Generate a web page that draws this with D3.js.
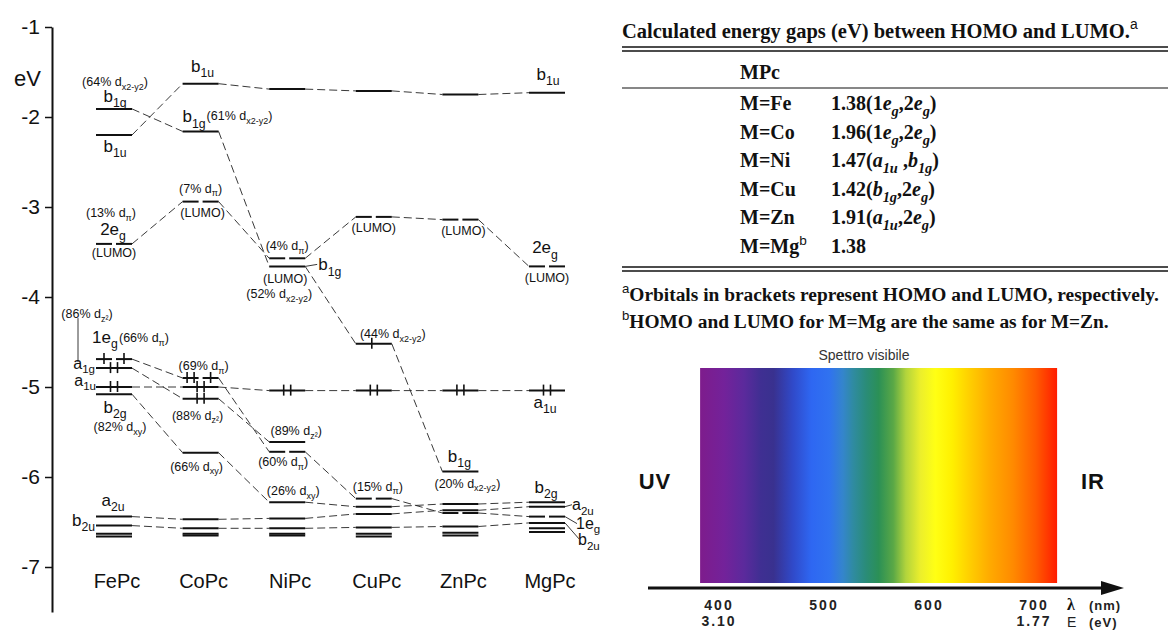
<!DOCTYPE html>
<html>
<head>
<meta charset="utf-8">
<script src="https://cdn.jsdelivr.net/npm/d3@7"></script>
<style>
  body { margin: 0; background: #fff; }
  text { white-space: pre; }
</style>
</head>
<body>
<svg id="fig" width="1168" height="635"></svg>
<script>
// ---------- data ----------
const complexes = ["FePc", "CoPc", "NiPc", "CuPc", "ZnPc", "MgPc"];
const energyTicks = [-1, -2, -3, -4, -5, -6, -7];

// orbital energies (eV) per complex; null where the level is not drawn
const b1u = [-2.20, -1.63, -1.69, -1.71, -1.75, -1.73];
const b1g = [-1.91, -2.16, -3.66, -4.52, -5.94, null];
const e2g = [-3.41, -2.94, -3.57, -3.11, -3.14, -3.66];
const e1g = [-4.69, -4.90, -5.72, -6.24, -6.40, -6.44];
const a1g = [-4.79, -5.13, -5.61, null, null, null];
const a1u = [-5.00, -5.00, -5.04, -5.04, -5.04, -5.04];
const b2g = [-5.08, -5.73, -6.28, -6.33, -6.30, -6.28];
const a2u = [-6.44, -6.47, -6.46, -6.41, -6.37, -6.33];
const b2u = [-6.54, -6.57, -6.57, -6.56, -6.55, -6.51];
const deepA = [-6.63, -6.63, -6.63, -6.63, -6.62, -6.57];
const deepB = [-6.66, -6.65, -6.65, -6.66, -6.65, -6.61];

// electrons on occupied levels (e levels: [left half, right half])
const a1uElectrons = [2, 2, 2, 2, 2, 2];
const a1gElectrons = [2, 2, 0, 0, 0, 0];
const b1gElectrons = [0, 0, 0, 1, 0, 0];
const e1gElectrons = [[1, 1], [2, 1], [0, 0], [0, 0], [0, 0], [0, 0]];

// HOMO-LUMO gap table
const tableMetals = ["Fe", "Co", "Ni", "Cu", "Zn", "Mg"];
const gapValues = [1.38, 1.96, 1.47, 1.42, 1.91, 1.38];
const gapOrbitals = [
  "(1*e*_{*g*},2*e*_{*g*})",
  "(1*e*_{*g*},2*e*_{*g*})",
  "(*a*_{*1u*} ,*b*_{*1g*})",
  "(*b*_{*1g*},2*e*_{*g*})",
  "(*a*_{*1u*},2*e*_{*g*})",
  ""
];
const tableTitle = "Calculated energy gaps (eV) between HOMO and LUMO.^{a}";
const footnotes = [
  "^{a}Orbitals in brackets represent HOMO and LUMO, respectively.",
  "^{b}HOMO and LUMO for M=Mg are the same as for M=Zn."
];

// visible spectrum
const spectrumTicksNm = [400, 500, 600, 700];
const spectrumTicksEv = ["3.10", "", "", "1.77"];
const spectrumNm = [382, 405, 424, 440, 452, 470, 488, 505, 518, 528, 540, 552, 566, 578, 592, 606, 622, 640, 658, 680, 702, 722];
const spectrumColors = ["#7e1c8c", "#73229a", "#5b2a9c", "#3f2f92", "#39318f", "#3049c8", "#2e67f2", "#3072f0", "#3485cc",
  "#2f8ba0", "#2a8c78", "#2b9056", "#5aa846", "#b2d43c", "#ecef2c", "#ffff14", "#fff000", "#ffcc00", "#ffaa00", "#ff8a00", "#ff5a00", "#ff1c00"];

// ---------- helpers ----------
const SANS = "'Liberation Sans', Arial, Helvetica, sans-serif";
const SERIF = "'Liberation Serif', 'Times New Roman', serif";

// text with _{sub}, ^{sup} and *italic* runs
function rich(g, str, o) {
  const t = g.append("text")
    .attr("x", o.x).attr("y", o.y)
    .attr("font-size", o.size)
    .attr("text-anchor", o.anchor || "middle")
    .attr("font-family", o.family || SANS)
    .attr("fill", o.fill || "#111");
  if (o.weight) t.attr("font-weight", o.weight);
  const segs = [];
  const re = /([_^])\{([^}]*)\}/g;
  let last = 0, m;
  while ((m = re.exec(str)) !== null) {
    if (m.index > last) segs.push({ t: str.slice(last, m.index), mode: "n" });
    segs.push({ t: m[2], mode: m[1] === "_" ? "sub" : "sup" });
    last = re.lastIndex;
  }
  if (last < str.length) segs.push({ t: str.slice(last), mode: "n" });
  let shift = 0, italic = false;
  segs.forEach(s => {
    const off = s.mode === "sub" ? o.size * (o.subShift || 0.3) : s.mode === "sup" ? -o.size * 0.42 : 0;
    const fs = s.mode === "n" ? o.size : o.size * (o.subScale || 0.72);
    s.t.split("*").forEach((piece, i) => {
      if (i > 0) italic = !italic;
      if (!piece) return;
      const ts = t.append("tspan").attr("dy", off - shift).attr("font-size", fs).text(piece);
      shift = off;
      if (italic) ts.attr("font-style", "italic");
      if (s.mode === "sup" && o.supFamily) ts.attr("font-family", o.supFamily).attr("font-weight", "normal");
    });
  });
  return t;
}

const svg = d3.select("#fig");

// ---------- orbital energy diagram ----------
const y = d3.scaleLinear().domain([-1, -7.5]).range([27, 612]);
const x = d3.scalePoint().domain(complexes).range([114, 547]);
const HW = 18;          // half width of a level
const GAP = 2;          // half gap between degenerate partners

const diagram = svg.append("g");

const axis = diagram.append("g")
  .attr("transform", "translate(52,0)")
  .call(d3.axisLeft(y).tickValues(energyTicks).tickFormat(d => String(d))
    .tickSize(7).tickSizeOuter(0).tickPadding(5));
axis.select(".domain").attr("stroke", "#111").attr("stroke-width", 2);
axis.selectAll(".tick line").attr("stroke", "#111").attr("stroke-width", 1.5);
axis.selectAll(".tick text").attr("font-size", 21).attr("font-family", SANS).attr("fill", "#111");

diagram.append("text").attr("x", 14).attr("y", 86).attr("font-size", 22)
  .attr("font-family", SANS).attr("fill", "#111").text("eV");

diagram.selectAll(".complex").data(complexes).join("text")
  .attr("class", "complex")
  .attr("x", d => x(d) + 3).attr("y", 588)
  .attr("text-anchor", "middle").attr("font-size", 20)
  .attr("font-family", SANS).attr("fill", "#111")
  .text(d => d);

// dashed correlation lines between neighbouring complexes
const correlated = [b1u, b1g, e2g, e1g, a1g, a1u, b2g, a2u, b2u];
const connectors = [];
correlated.forEach(series => {
  for (let i = 0; i < series.length - 1; i++) {
    if (series[i] != null && series[i + 1] != null)
      connectors.push({ x1: x(complexes[i]) + HW, y1: y(series[i]), x2: x(complexes[i + 1]) - HW, y2: y(series[i + 1]) });
  }
});
diagram.append("g").selectAll("line").data(connectors).join("line")
  .attr("x1", d => d.x1).attr("y1", d => d.y1).attr("x2", d => d.x2).attr("y2", d => d.y2)
  .attr("stroke", "#222").attr("stroke-width", 0.9).attr("stroke-dasharray", "8,4");

// energy levels (degenerate e levels drawn as two short bars)
const levels = [];
[[b1u, false], [b1g, false], [e2g, true], [e1g, true], [a1g, false], [a1u, false],
 [b2g, false], [a2u, false], [b2u, false], [deepA, false], [deepB, false]].forEach(([series, degenerate]) => {
  series.forEach((v, i) => {
    if (v == null) return;
    const cx = x(complexes[i]);
    if (degenerate) {
      levels.push({ x1: cx - HW, x2: cx - GAP, y: y(v) });
      levels.push({ x1: cx + GAP, x2: cx + HW, y: y(v) });
    } else {
      levels.push({ x1: cx - HW, x2: cx + HW, y: y(v) });
    }
  });
});
diagram.append("g").selectAll("line").data(levels).join("line")
  .attr("x1", d => d.x1).attr("x2", d => d.x2).attr("y1", d => d.y).attr("y2", d => d.y)
  .attr("stroke", "#111").attr("stroke-width", 2);

// electron ticks
const electronTicks = [];
function addTicks(cx, yy, n) {
  if (n === 1) electronTicks.push({ x: cx, y: yy });
  if (n === 2) { electronTicks.push({ x: cx - 3.5, y: yy }); electronTicks.push({ x: cx + 3.5, y: yy }); }
}
complexes.forEach((c, i) => {
  const cx = x(c);
  if (a1u[i] != null) addTicks(cx, y(a1u[i]), a1uElectrons[i]);
  if (a1g[i] != null) addTicks(cx, y(a1g[i]), a1gElectrons[i]);
  if (b1g[i] != null) addTicks(cx - 2, y(b1g[i]), b1gElectrons[i]);
  if (e1g[i] != null) {
    addTicks(cx - (HW + GAP) / 2, y(e1g[i]), e1gElectrons[i][0]);
    addTicks(cx + (HW + GAP) / 2, y(e1g[i]), e1gElectrons[i][1]);
  }
});
diagram.append("g").selectAll("line").data(electronTicks).join("line")
  .attr("x1", d => d.x).attr("x2", d => d.x).attr("y1", d => d.y - 6).attr("y2", d => d.y + 5)
  .attr("stroke", "#111").attr("stroke-width", 1.6);

// orbital names and compositions, placed relative to their level
const L = 17, S = 12.5;
const orbitalLabels = [
  { c: 0, s: b1g, t: "(64% d_{x2-y2})", dx: 1, dy: -23, size: S },
  { c: 0, s: b1g, t: "b_{1g}", dx: 1, dy: -7, size: L },
  { c: 0, s: b1u, t: "b_{1u}", dx: 1, dy: 17, size: L },
  { c: 0, s: e2g, t: "(13% d_{π})", dx: -3, dy: -27, size: S },
  { c: 0, s: e2g, t: "2e_{g}", dx: -1, dy: -9, size: L },
  { c: 0, s: e2g, t: "(LUMO)", dx: 0, dy: 13, size: S },
  { c: 0, s: e1g, t: "(86% d_{z²})", dx: -27, dy: -41, size: S },
  { c: 0, s: e1g, t: "1e_{g}", dx: -22, dy: -16, size: L, anchor: "start" },
  { c: 0, s: e1g, t: "(66% d_{π})", dx: 5, dy: -17, size: S, anchor: "start" },
  { c: 0, s: a1g, t: "a_{1g}", dx: -19, dy: 1, size: 16, anchor: "end", subShift: 0.24 },
  { c: 0, s: a1u, t: "a_{1u}", dx: -18, dy: -1, size: 16, anchor: "end", subShift: 0.24 },
  { c: 0, s: b2g, t: "b_{2g}", dx: 1, dy: 19, size: L },
  { c: 0, s: b2g, t: "(82% d_{xy})", dx: 6, dy: 37, size: S },
  { c: 0, s: a2u, t: "a_{2u}", dx: -1, dy: -11, size: L },
  { c: 0, s: b2u, t: "b_{2u}", dx: -19, dy: 0, size: L, anchor: "end" },

  { c: 1, s: b1u, t: "b_{1u}", dx: 2, dy: -12, size: L },
  { c: 1, s: b1g, t: "b_{1g}", dx: -18, dy: -9, size: L, anchor: "start" },
  { c: 1, s: b1g, t: "(61% d_{x2-y2})", dx: 6, dy: -11, size: S, anchor: "start" },
  { c: 1, s: e2g, t: "(7% d_{π})", dx: 0, dy: -9, size: S },
  { c: 1, s: e2g, t: "(LUMO)", dx: 2, dy: 15, size: S },
  { c: 1, s: e1g, t: "(69% d_{π})", dx: 3, dy: -8, size: S },
  { c: 1, s: a1g, t: "(88% d_{z²})", dx: -3, dy: 21, size: S },
  { c: 1, s: b2g, t: "(66% d_{xy})", dx: -4, dy: 18, size: S },

  { c: 2, s: e2g, t: "(4% d_{π})", dx: 0, dy: -8, size: S },
  { c: 2, s: b1g, t: "b_{1g}", dx: 31, dy: 4, size: L, anchor: "start" },
  { c: 2, s: b1g, t: "(LUMO)", dx: -2, dy: 17, size: S },
  { c: 2, s: b1g, t: "(52% d_{x2-y2})", dx: -8, dy: 32, size: S },
  { c: 2, s: a1g, t: "(89% d_{z²})", dx: 9, dy: -7, size: S },
  { c: 2, s: e1g, t: "(60% d_{π})", dx: -4, dy: 14, size: S },
  { c: 2, s: b2g, t: "(26% d_{xy})", dx: 6, dy: -7, size: S },

  { c: 3, s: e2g, t: "(LUMO)", dx: 0, dy: 15, size: S },
  { c: 3, s: b1g, t: "(44% d_{x2-y2})", dx: 19, dy: -6, size: S },
  { c: 3, s: e1g, t: "(15% d_{π})", dx: 4, dy: -8, size: S },

  { c: 4, s: e2g, t: "(LUMO)", dx: 3, dy: 15, size: S },
  { c: 4, s: b1g, t: "b_{1g}", dx: -1, dy: -10, size: L },
  { c: 4, s: b1g, t: "(20% d_{x2-y2})", dx: 7, dy: 16, size: S },

  { c: 5, s: b1u, t: "b_{1u}", dx: 1, dy: -13, size: L },
  { c: 5, s: e2g, t: "2e_{g}", dx: -2, dy: -13, size: L },
  { c: 5, s: e2g, t: "(LUMO)", dx: 0, dy: 16, size: S },
  { c: 5, s: a1u, t: "a_{1u}", dx: -2, dy: 17, size: L },
  { c: 5, s: b2g, t: "b_{2g}", dx: -1, dy: -9, size: L },
  { c: 5, s: a2u, t: "a_{2u}", dx: 25, dy: 3, size: 16, anchor: "start" },
  { c: 5, s: e1g, t: "1e_{g}", dx: 29, dy: 12, size: 16, anchor: "start" },
  { c: 5, s: b2u, t: "b_{2u}", dx: 31, dy: 22, size: 16, anchor: "start" }
];
const labelLayer = diagram.append("g");
orbitalLabels.forEach(l => {
  rich(labelLayer, l.t, {
    x: x(complexes[l.c]) + l.dx, y: y(l.s[l.c]) + l.dy,
    size: l.size, anchor: l.anchor || "middle", subShift: l.subShift
  });
});

// thin leader lines from levels to their names
const leaders = [
  { c: 0, s: a1g, dx1: -36, dy1: -50, dx2: -36, dy2: -6 },
  { c: 2, s: b1g, dx1: HW, dy1: 0, dx2: 30, dy2: -2 },
  { c: 5, s: a2u, dx1: HW, dy1: 0, dx2: 25, dy2: -2 },
  { c: 5, s: e1g, dx1: HW, dy1: 0, dx2: 30, dy2: 7 },
  { c: 5, s: b2u, dx1: HW, dy1: 0, dx2: 32, dy2: 16 }
];
diagram.append("g").selectAll("line").data(leaders).join("line")
  .attr("x1", d => x(complexes[d.c]) + d.dx1).attr("y1", d => y(d.s[d.c]) + d.dy1)
  .attr("x2", d => x(complexes[d.c]) + d.dx2).attr("y2", d => y(d.s[d.c]) + d.dy2)
  .attr("stroke", "#222").attr("stroke-width", 0.9);

// ---------- gap table ----------
const table = svg.append("g");
const TX0 = 622, TX1 = 1168, TFS = 20;
rich(table, tableTitle, { x: TX0, y: 38, size: 20.5, anchor: "start", family: SERIF, weight: "bold", supFamily: SANS, subScale: 0.68 });

const rules = [
  { y: 47, w: 1.4 }, { y: 51, w: 1.4 }, { y: 88, w: 1.2 }, { y: 267, w: 1.4 }, { y: 271, w: 1.4 }
];
table.selectAll("line.rule").data(rules).join("line")
  .attr("class", "rule")
  .attr("x1", TX0).attr("x2", TX1).attr("y1", d => d.y).attr("y2", d => d.y)
  .attr("stroke", "#111").attr("stroke-width", d => d.w);

rich(table, "MPc", { x: 740, y: 79, size: TFS, anchor: "start", family: SERIF, weight: "bold" });

const rowY = d3.scalePoint().domain(tableMetals).range([110, 253]);
tableMetals.forEach((mt, i) => {
  const lab = "M=" + mt + (gapOrbitals[i] === "" ? "^{b}" : "");
  rich(table, lab, { x: 740, y: rowY(mt), size: TFS, anchor: "start", family: SERIF, weight: "bold", supFamily: SANS, subScale: 0.68 });
  rich(table, d3.format(".2f")(gapValues[i]) + gapOrbitals[i],
    { x: 831, y: rowY(mt), size: TFS, anchor: "start", family: SERIF, weight: "bold", subScale: 0.72 });
});
footnotes.forEach((f, i) => {
  rich(table, f, { x: TX0, y: 301 + i * 27, size: 19.4, anchor: "start", family: SERIF, weight: "bold", supFamily: SANS, subScale: 0.68 });
});

// ---------- visible spectrum ----------
const spec = svg.append("g");
const wl = d3.scaleLinear().domain([400, 700]).range([719, 1034]);
const specTop = 368, specBottom = 583;
const grad = svg.append("defs").append("linearGradient")
  .attr("id", "spectrum").attr("gradientUnits", "userSpaceOnUse")
  .attr("x1", wl(spectrumNm[0])).attr("x2", wl(spectrumNm[spectrumNm.length - 1]))
  .attr("y1", 0).attr("y2", 0);
const nmToOffset = d3.scaleLinear().domain([spectrumNm[0], spectrumNm[spectrumNm.length - 1]]).range([0, 1]);
grad.selectAll("stop").data(spectrumNm).join("stop")
  .attr("offset", d => nmToOffset(d))
  .attr("stop-color", (d, i) => spectrumColors[i]);
spec.append("rect")
  .attr("x", wl(spectrumNm[0])).attr("y", specTop)
  .attr("width", wl(spectrumNm[spectrumNm.length - 1]) - wl(spectrumNm[0]))
  .attr("height", specBottom - specTop)
  .attr("fill", "url(#spectrum)");

spec.append("text").attr("x", 864).attr("y", 360).attr("text-anchor", "middle")
  .attr("font-size", 14).attr("font-family", SANS).attr("fill", "#333").text("Spettro visibile");
spec.append("text").attr("x", 655).attr("y", 489).attr("text-anchor", "middle")
  .attr("font-size", 22).attr("font-weight", "bold").attr("letter-spacing", 1)
  .attr("font-family", SANS).attr("fill", "#111").text("UV");
spec.append("text").attr("x", 1093).attr("y", 489).attr("text-anchor", "middle")
  .attr("font-size", 22).attr("font-weight", "bold").attr("letter-spacing", 1)
  .attr("font-family", SANS).attr("fill", "#111").text("IR");

// wavelength arrow
spec.append("line").attr("x1", 648).attr("x2", 1106).attr("y1", 588).attr("y2", 588)
  .attr("stroke", "#111").attr("stroke-width", 3.2);
spec.append("path").attr("d", "M1101,581 L1124,588 L1101,595 Z").attr("fill", "#111");

spec.selectAll("text.nm").data(spectrumTicksNm).join("text")
  .attr("class", "nm").attr("x", d => wl(d)).attr("y", 610)
  .attr("text-anchor", "middle").attr("font-size", 14).attr("font-weight", "bold")
  .attr("letter-spacing", 2).attr("font-family", SANS).attr("fill", "#222")
  .text(d => d);
spec.selectAll("text.ev").data(spectrumTicksNm).join("text")
  .attr("class", "ev").attr("x", d => wl(d)).attr("y", 626)
  .attr("text-anchor", "middle").attr("font-size", 14).attr("font-weight", "bold")
  .attr("letter-spacing", 2).attr("font-family", SANS).attr("fill", "#222")
  .text((d, i) => spectrumTicksEv[i]);
spec.append("text").attr("x", 1067).attr("y", 610).attr("font-size", 16).attr("font-weight", "bold")
  .attr("font-family", SERIF).attr("fill", "#111").text("λ");
spec.append("text").attr("x", 1089).attr("y", 610).attr("font-size", 13).attr("font-weight", "bold")
  .attr("letter-spacing", 1).attr("font-family", SANS).attr("fill", "#222").text("(nm)");
spec.append("text").attr("x", 1067).attr("y", 627).attr("font-size", 14)
  .attr("letter-spacing", 1).attr("font-family", SANS).attr("fill", "#222").text("E");
spec.append("text").attr("x", 1089).attr("y", 627).attr("font-size", 13).attr("font-weight", "bold")
  .attr("letter-spacing", 1).attr("font-family", SANS).attr("fill", "#222").text("(eV)");
</script>
</body>
</html>
